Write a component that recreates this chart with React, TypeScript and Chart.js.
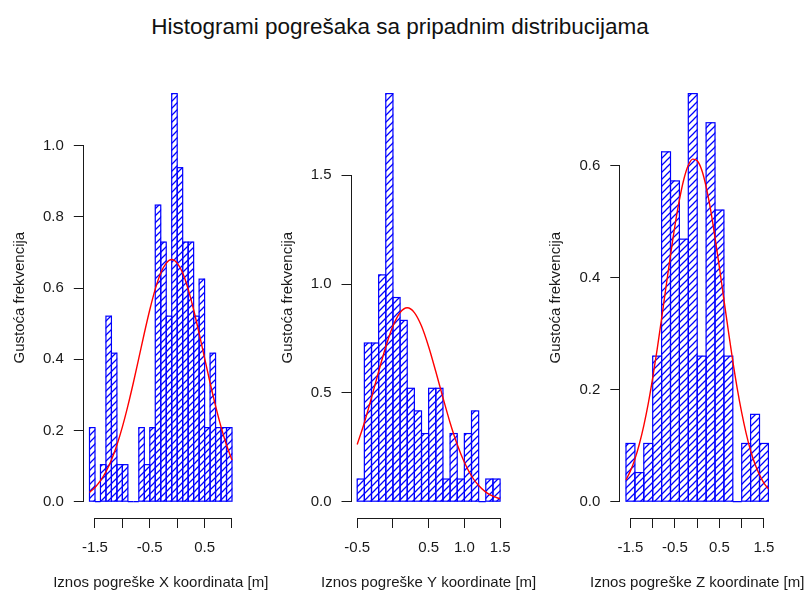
import React, { useEffect, useRef } from 'react';
import { Chart, registerables } from 'chart.js';

Chart.register(...registerables);

const MAIN_TITLE = 'Histogrami pogrešaka sa pripadnim distribucijama';
const Y_TITLE = 'Gustoća frekvencija';
const FONT = "'Liberation Sans', Arial, Helvetica, sans-serif";
const BAR_COLOR = '#0000ff';
const CURVE_COLOR = '#ff0000';
const AXIS_COLOR = '#1a1a1a';

// ---------- Panel X ----------
const xAxisTitle = 'Iznos pogreške X koordinata [m]';
const xBinStart = -1.6;
const xBinWidth = 0.1;
const xDensity = [0.208, 0, 0.104, 0.521, 0.417, 0.104, 0.104, 0, 0, 0.208, 0.104, 0.208, 0.833, 0.729, 0.521, 1.146, 0.938, 0.729, 0.729, 0.521, 0.625, 0.208, 0.417, 0.208, 0.208, 0.208];
const xCurveStart = -1.6;
const xCurveStep = 0.1;
const xCurve = [0.026, 0.040, 0.059, 0.084, 0.117, 0.159, 0.210, 0.269, 0.334, 0.403, 0.473, 0.539, 0.597, 0.642, 0.670, 0.680, 0.670, 0.642, 0.597, 0.539, 0.473, 0.403, 0.334, 0.269, 0.210, 0.159, 0.117];
const xTicksX = [-1.5, -1.0, -0.5, 0, 0.5, 1.0];
const xTickLabelsX = ['-1.5', '', '-0.5', '', '0.5', ''];
const yTicksX = [0, 0.2, 0.4, 0.6, 0.8, 1.0];
const yTickLabelsX = ['0.0', '0.2', '0.4', '0.6', '0.8', '1.0'];

// ---------- Panel Y ----------
const yAxisTitle = 'Iznos pogreške Y koordinate [m]';
const yBinStart = -0.5;
const yBinWidth = 0.1;
const yDensity = [0.104, 0.729, 0.729, 1.042, 1.875, 0.938, 0.833, 0.521, 0.417, 0.313, 0.521, 0.521, 0.104, 0.313, 0.104, 0.313, 0.417, 0, 0.104, 0.104];
const yCurveStart = -0.5;
const yCurveStep = 0.1;
const yCurve = [0.263, 0.363, 0.478, 0.598, 0.712, 0.807, 0.869, 0.891, 0.869, 0.807, 0.712, 0.598, 0.478, 0.363, 0.263, 0.181, 0.118, 0.074, 0.044, 0.025, 0.013];
const xTicksY = [-0.5, 0, 0.5, 1.0, 1.5];
const xTickLabelsY = ['-0.5', '', '0.5', '1.0', '1.5'];
const yTicksY = [0, 0.5, 1.0, 1.5];
const yTickLabelsY = ['0.0', '0.5', '1.0', '1.5'];

// ---------- Panel Z ----------
const zAxisTitle = 'Iznos pogreške Z koordinate [m]';
const zBinStart = -1.6;
const zBinWidth = 0.2;
const zDensity = [0.104, 0.052, 0.104, 0.260, 0.625, 0.573, 0.469, 0.729, 0.260, 0.677, 0.521, 0.260, 0, 0.104, 0.156, 0.104];
const zCurveStart = -1.6;
const zCurveStep = 0.1;
const zCurve = [0.039, 0.055, 0.076, 0.103, 0.136, 0.175, 0.221, 0.272, 0.327, 0.384, 0.440, 0.493, 0.539, 0.576, 0.601, 0.612, 0.609, 0.593, 0.563, 0.522, 0.472, 0.418, 0.361, 0.305, 0.251, 0.202, 0.159, 0.122, 0.091, 0.067, 0.048, 0.033, 0.023];
const xTicksZ = [-1.5, -1.0, -0.5, 0, 0.5, 1.0, 1.5];
const xTickLabelsZ = ['-1.5', '', '-0.5', '', '0.5', '', '1.5'];
const yTicksZ = [0, 0.2, 0.4, 0.6];
const yTickLabelsZ = ['0.0', '0.2', '0.4', '0.6'];

type PanelSpec = {
  axisTitle: string;
  binStart: number;
  binWidth: number;
  density: number[];
  curveStart: number;
  curveStep: number;
  curve: number[];
  xTicks: number[];
  xTickLabels: string[];
  yTicks: number[];
  yTickLabels: string[];
  left: number;
  width: number;
  padLeft: number;
  padRight: number;
};

const PANELS: PanelSpec[] = [
  { axisTitle: xAxisTitle, binStart: xBinStart, binWidth: xBinWidth, density: xDensity, curveStart: xCurveStart, curveStep: xCurveStep, curve: xCurve, xTicks: xTicksX, xTickLabels: xTickLabelsX, yTicks: yTicksX, yTickLabels: yTickLabelsX, left: 0, width: 270, padLeft: 10.8, padRight: 32.3 },
  { axisTitle: yAxisTitle, binStart: yBinStart, binWidth: yBinWidth, density: yDensity, curveStart: yCurveStart, curveStep: yCurveStep, curve: yCurve, xTicks: xTicksY, xTickLabels: xTickLabelsY, yTicks: yTicksY, yTickLabels: yTickLabelsY, left: 270, width: 270, padLeft: 8.5, padRight: 34.2 },
  { axisTitle: zAxisTitle, binStart: zBinStart, binWidth: zBinWidth, density: zDensity, curveStart: zCurveStart, curveStep: zCurveStep, curve: zCurve, xTicks: xTicksZ, xTickLabels: xTickLabelsZ, yTicks: yTicksZ, yTickLabels: yTickLabelsZ, left: 540, width: 269, padLeft: 7.3, padRight: 34.9 },
];

const CANVAS_H = 592;
const PLOT_TOP = 77.3;
const Y_AXIS_W = 73;
const X_AXIS_H = 74;
const AXIS_TITLE_Y = 583;

function makeHatch(spacing: number, color: string): CanvasPattern | string {
  const c = document.createElement('canvas');
  c.width = spacing;
  c.height = spacing;
  const g = c.getContext('2d');
  if (!g) return color;
  g.strokeStyle = color;
  g.lineWidth = 1.25;
  g.beginPath();
  g.moveTo(-1, spacing + 1);
  g.lineTo(spacing + 1, -1);
  g.moveTo(-1, 1);
  g.lineTo(1, -1);
  g.moveTo(spacing - 1, spacing + 1);
  g.lineTo(spacing + 1, spacing - 1);
  g.stroke();
  return g.createPattern(c, 'repeat') || color;
}

const rStylePlugin = {
  id: 'rStyle',
  afterDatasetDraw(chart: any, args: any) {
    const ds = chart.data.datasets[args.index];
    if (ds.type !== 'bar') return;
    const ctx = chart.ctx;
    ctx.save();
    ctx.strokeStyle = BAR_COLOR;
    ctx.lineWidth = 1.2;
    args.meta.data.forEach((el: any) => {
      const p = el.getProps(['x', 'y', 'width', 'base'], true);
      ctx.strokeRect(p.x - p.width / 2, p.y, p.width, p.base - p.y);
    });
    ctx.restore();
  },
  afterDraw(chart: any) {
    const ctx = chart.ctx;
    const xs = chart.scales.x;
    const ys = chart.scales.y;
    const xt = xs.ticks;
    const yt = ys.ticks;
    ctx.save();
    ctx.strokeStyle = AXIS_COLOR;
    ctx.lineWidth = 1;
    ctx.beginPath();
    const yb = Math.round(chart.chartArea.bottom) + 0.5;
    ctx.moveTo(xs.getPixelForValue(xt[0].value), yb);
    ctx.lineTo(xs.getPixelForValue(xt[xt.length - 1].value), yb);
    const xl = Math.round(chart.chartArea.left) - 0.5;
    ctx.moveTo(xl, ys.getPixelForValue(yt[0].value));
    ctx.lineTo(xl, ys.getPixelForValue(yt[yt.length - 1].value));
    ctx.stroke();
    // x-axis title, drawn without width compression
    const title = chart.options.plugins.rStyle?.xTitle;
    if (title) {
      ctx.fillStyle = AXIS_COLOR;
      ctx.font = `15px ${FONT}`;
      ctx.textAlign = 'center';
      ctx.textBaseline = 'middle';
      ctx.fillText(title, (chart.chartArea.left + chart.chartArea.right) / 2, AXIS_TITLE_Y);
    }
    ctx.restore();
  },
};

function Panel({ spec }: { spec: PanelSpec }) {
  const ref = useRef<HTMLCanvasElement | null>(null);
  useEffect(() => {
    const canvas = ref.current;
    if (!canvas) return;
    const bars = spec.density.map((v, i) => ({ x: spec.binStart + (i + 0.5) * spec.binWidth, y: v }));
    const curvePts = spec.curve.map((v, i) => ({ x: spec.curveStart + i * spec.curveStep, y: v }));
    const binEnd = spec.binStart + spec.density.length * spec.binWidth;
    const xExt = (binEnd - spec.binStart) * 0.04;
    const yMax = Math.max(...spec.density);
    const yExt = yMax * 0.04;
    const hatch = makeHatch(7, BAR_COLOR);
    const tickFont = { family: FONT, size: 15 };
    const chart = new Chart(canvas, {
      type: 'bar',
      data: {
        datasets: [
          {
            type: 'line',
            data: curvePts,
            borderColor: CURVE_COLOR,
            borderWidth: 1.4,
            pointRadius: 0,
            fill: false,
            cubicInterpolationMode: 'monotone',
            order: 0,
          } as any,
          {
            type: 'bar',
            data: bars,
            backgroundColor: hatch as any,
            borderWidth: 0,
            barPercentage: 1,
            categoryPercentage: 1,
            grouped: false,
            order: 1,
          } as any,
        ],
      },
      options: {
        animation: false,
        responsive: false,
        maintainAspectRatio: false,
        events: [],
        layout: { padding: { top: PLOT_TOP, bottom: 0, left: spec.padLeft, right: spec.padRight } },
        plugins: {
          legend: { display: false },
          tooltip: { enabled: false },
          title: { display: false },
          rStyle: { xTitle: spec.axisTitle },
        } as any,
        scales: {
          x: {
            type: 'linear',
            offset: false,
            min: spec.binStart - xExt,
            max: binEnd + xExt,
            afterBuildTicks: (s: any) => {
              s.ticks = spec.xTicks.map((v) => ({ value: v }));
            },
            afterFit: (s: any) => {
              s.height = X_AXIS_H;
            },
            grid: { offset: false, drawOnChartArea: false, drawTicks: true, tickLength: 10, color: AXIS_COLOR, lineWidth: 1 },
            border: { display: false },
            ticks: {
              autoSkip: false,
              maxRotation: 0,
              minRotation: 0,
              padding: 11,
              color: AXIS_COLOR,
              font: tickFont,
              callback: (_v: any, i: number) => spec.xTickLabels[i],
            },
            title: { display: false },
          } as any,
          y: {
            type: 'linear',
            min: -yExt,
            max: yMax + yExt,
            afterBuildTicks: (s: any) => {
              s.ticks = spec.yTicks.map((v) => ({ value: v }));
            },
            afterFit: (s: any) => {
              s.width = Y_AXIS_W;
            },
            grid: { drawOnChartArea: false, drawTicks: true, tickLength: 10, color: AXIS_COLOR, lineWidth: 1 },
            border: { display: false },
            ticks: {
              autoSkip: false,
              padding: 10,
              color: AXIS_COLOR,
              font: tickFont,
              callback: (_v: any, i: number) => spec.yTickLabels[i],
            },
            title: { display: true, text: Y_TITLE, color: AXIS_COLOR, font: tickFont, padding: 0 },
          } as any,
        },
      },
      plugins: [rStylePlugin],
    });
    return () => chart.destroy();
  }, [spec]);
  return (
    <canvas
      ref={ref}
      width={spec.width}
      height={CANVAS_H}
      style={{ position: 'absolute', left: spec.left, top: 0, width: spec.width, height: CANVAS_H }}
    />
  );
}

export default function App() {
  return (
    <div style={{ position: 'absolute', left: 0, top: 0, width: 809, height: 592, background: '#ffffff', overflow: 'hidden' }}>
      <div
        style={{
          position: 'absolute',
          left: 0,
          top: 16,
          width: 800,
          textAlign: 'center',
          fontFamily: FONT,
          fontSize: 22.5,
          lineHeight: '22px',
          color: '#111',
          whiteSpace: 'nowrap',
        }}
      >
        {MAIN_TITLE}
      </div>
      {PANELS.map((p, i) => (
        <Panel key={i} spec={p} />
      ))}
    </div>
  );
}
